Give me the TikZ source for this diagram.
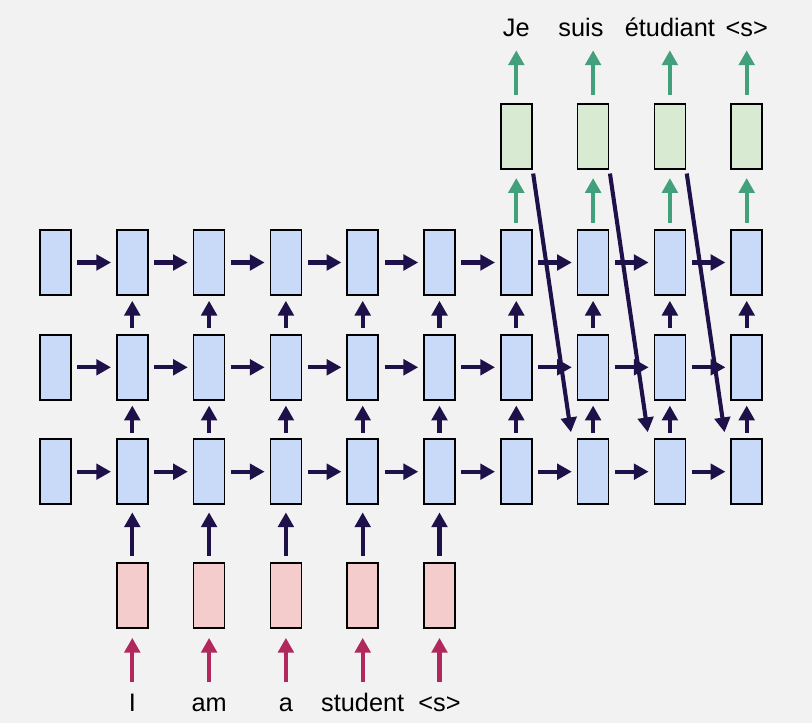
\documentclass[tikz,border=0pt]{standalone}
\usepackage{fontspec}
\setmainfont{Liberation Sans}
\usetikzlibrary{arrows.meta}

\definecolor{bgcol}{HTML}{F2F2F2}
\definecolor{cellblue}{HTML}{C9DAF8}
\definecolor{cellgreen}{HTML}{D9EAD3}
\definecolor{cellpink}{HTML}{F4CCCC}
\definecolor{ink}{HTML}{1E1048}
\definecolor{inred}{HTML}{B0285C}
\definecolor{outgreen}{HTML}{43A07C}

\begin{document}
\begin{tikzpicture}
            [x=0.025cm, y=-0.025cm,
            cell/.style={draw=black, line width=1.2pt, inner sep=0pt, minimum width=0.775cm, minimum height=1.625cm},
            hidden/.style={cell, fill=cellblue},
            embed/.style={cell, fill=cellpink},
            proj/.style={cell, fill=cellgreen},
            word/.style={font=\fontsize{18}{21}\selectfont, inner sep=0pt, text height=12pt, text depth=3pt, anchor=base},
            link/.style={draw=ink, line width=2.9pt, -{Triangle[width=11pt,length=10.5pt]}, shorten <=4pt, shorten >=3.5pt},
            feed/.style={link, shorten <=4.3pt, shorten >=5.2pt},
            skip/.style={link, shorten <=2.5pt, shorten >=4.4pt},
            inlink/.style={link, draw=inred, shorten <=8.6pt, shorten >=6.4pt},
            outlink/.style={link, draw=outgreen, shorten <=4.5pt, shorten >=5.7pt},
            emit/.style={link, draw=outgreen, shorten <=5.7pt, shorten >=7pt}]

            \fill[bgcol] (0,0) rectangle (812,723);

            % layer 3
            \node[hidden] (h30) at (55.5,262.5) {};
            \node[hidden] (h31) at (132.3,262.5) {};
            \node[hidden] (h32) at (209.1,262.5) {};
            \node[hidden] (h33) at (285.9,262.5) {};
            \node[hidden] (h34) at (362.7,262.5) {};
            \node[hidden] (h35) at (439.5,262.5) {};
            \node[hidden] (h36) at (516.3,262.5) {};
            \node[hidden] (h37) at (593.1,262.5) {};
            \node[hidden] (h38) at (669.9,262.5) {};
            \node[hidden] (h39) at (746.7,262.5) {};

            % layer 2
            \node[hidden] (h20) at (55.5,367.3) {};
            \node[hidden] (h21) at (132.3,367.3) {};
            \node[hidden] (h22) at (209.1,367.3) {};
            \node[hidden] (h23) at (285.9,367.3) {};
            \node[hidden] (h24) at (362.7,367.3) {};
            \node[hidden] (h25) at (439.5,367.3) {};
            \node[hidden] (h26) at (516.3,367.3) {};
            \node[hidden] (h27) at (593.1,367.3) {};
            \node[hidden] (h28) at (669.9,367.3) {};
            \node[hidden] (h29) at (746.7,367.3) {};

            % layer 1
            \node[hidden] (h10) at (55.5,471.7) {};
            \node[hidden] (h11) at (132.3,471.7) {};
            \node[hidden] (h12) at (209.1,471.7) {};
            \node[hidden] (h13) at (285.9,471.7) {};
            \node[hidden] (h14) at (362.7,471.7) {};
            \node[hidden] (h15) at (439.5,471.7) {};
            \node[hidden] (h16) at (516.3,471.7) {};
            \node[hidden] (h17) at (593.1,471.7) {};
            \node[hidden] (h18) at (669.9,471.7) {};
            \node[hidden] (h19) at (746.7,471.7) {};

            % source side
            \node[embed] (x1) at (132.3,595.5) {};
            \node[embed] (x2) at (209.1,595.5) {};
            \node[embed] (x3) at (285.9,595.5) {};
            \node[embed] (x4) at (362.7,595.5) {};
            \node[embed] (x5) at (439.5,595.5) {};

            \node[word] (w1) at (132.3,711.7) {I};
            \node[word] (w2) at (209.1,711.7) {am};
            \node[word] (w3) at (285.9,711.7) {a};
            \node[word] (w4) at (362.7,711.7) {student};
            \node[word] (w5) at (439.5,711.7) {<s>};

            % target side
            \node[proj] (y6) at (516.3,136.7) {};
            \node[proj] (y7) at (593.1,136.7) {};
            \node[proj] (y8) at (669.9,136.7) {};
            \node[proj] (y9) at (746.7,136.7) {};

            \node[word] (o6) at (516.3,36) {Je};
            \node[word] (o7) at (581,36) {suis};
            \node[word] (o8) at (669.9,36) {étudiant};
            \node[word] (o9) at (746.7,36) {<s>};

            \draw[inlink] (w1) -- (x1);
            \draw[inlink] (w2) -- (x2);
            \draw[inlink] (w3) -- (x3);
            \draw[inlink] (w4) -- (x4);
            \draw[inlink] (w5) -- (x5);

            \draw[feed] (x1) -- (h11);
            \draw[feed] (x2) -- (h12);
            \draw[feed] (x3) -- (h13);
            \draw[feed] (x4) -- (h14);
            \draw[feed] (x5) -- (h15);

            \draw[link] (h10) -- (h11);
            \draw[link] (h11) -- (h12);
            \draw[link] (h12) -- (h13);
            \draw[link] (h13) -- (h14);
            \draw[link] (h14) -- (h15);
            \draw[link] (h15) -- (h16);
            \draw[link] (h16) -- (h17);
            \draw[link] (h17) -- (h18);
            \draw[link] (h18) -- (h19);

            \draw[link] (h20) -- (h21);
            \draw[link] (h21) -- (h22);
            \draw[link] (h22) -- (h23);
            \draw[link] (h23) -- (h24);
            \draw[link] (h24) -- (h25);
            \draw[link] (h25) -- (h26);
            \draw[link] (h26) -- (h27);
            \draw[link] (h27) -- (h28);
            \draw[link] (h28) -- (h29);

            \draw[link] (h30) -- (h31);
            \draw[link] (h31) -- (h32);
            \draw[link] (h32) -- (h33);
            \draw[link] (h33) -- (h34);
            \draw[link] (h34) -- (h35);
            \draw[link] (h35) -- (h36);
            \draw[link] (h36) -- (h37);
            \draw[link] (h37) -- (h38);
            \draw[link] (h38) -- (h39);

            \draw[link] (h11) -- (h21);
            \draw[link] (h12) -- (h22);
            \draw[link] (h13) -- (h23);
            \draw[link] (h14) -- (h24);
            \draw[link] (h15) -- (h25);
            \draw[link] (h16) -- (h26);
            \draw[link] (h17) -- (h27);
            \draw[link] (h18) -- (h28);
            \draw[link] (h19) -- (h29);

            \draw[link] (h21) -- (h31);
            \draw[link] (h22) -- (h32);
            \draw[link] (h23) -- (h33);
            \draw[link] (h24) -- (h34);
            \draw[link] (h25) -- (h35);
            \draw[link] (h26) -- (h36);
            \draw[link] (h27) -- (h37);
            \draw[link] (h28) -- (h38);
            \draw[link] (h29) -- (h39);

            \draw[outlink] (h36) -- (y6);
            \draw[outlink] (h37) -- (y7);
            \draw[outlink] (h38) -- (y8);
            \draw[outlink] (h39) -- (y9);

            \draw[emit] (y6.north) -- (o6.south);
            \draw[emit] (y7.north) -- (y7.north |- o7.south);
            \draw[emit] (y8.north) -- (o8.south);
            \draw[emit] (y9.north) -- (o9.south);

            \draw[skip] (y6.south east) -- ([xshift=-3.5pt]h17.north west);
            \draw[skip] (y7.south east) -- ([xshift=-3.5pt]h18.north west);
            \draw[skip] (y8.south east) -- ([xshift=-3.5pt]h19.north west);

        \end{tikzpicture}
\end{document}
